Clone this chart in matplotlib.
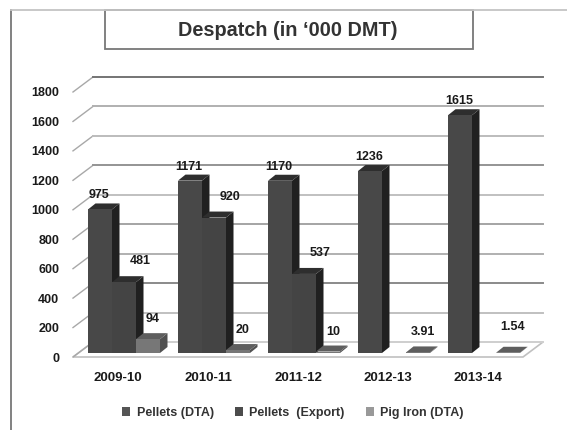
import numpy as np
import matplotlib
matplotlib.use("Agg")
import matplotlib.pyplot as plt
from matplotlib.patches import Polygon, Patch, Rectangle
from matplotlib.lines import Line2D

plt.rcParams['font.family'] = ['Liberation Sans', 'DejaVu Sans']

years = ['2009-10', '2010-11', '2011-12', '2012-13', '2013-14']
pellets_dta = [975, 1171, 1170, 1236, 1615]
pellets_export = [481, 920, 537, np.nan, np.nan]
pig_iron = [94, 20, 10, 3.91, 1.54]
value_labels = [['975', '1171', '1170', '1236', '1615'],
                ['481', '920', '537', '', ''],
                ['94', '20', '10', '3.91', '1.54']]
series_names = ['Pellets (DTA)', 'Pellets  (Export)', 'Pig Iron (DTA)']
y_ticks = [0, 200, 400, 600, 800, 1000, 1200, 1400, 1600, 1800]

W, H = 567, 430
fig = plt.figure(figsize=(W / 100, H / 100), dpi=100)
ax = fig.add_axes([73 / W, 1 - 357 / H, 450 / W, 265 / H])
ax.set_xlim(-0.5, 4.5)
ax.set_ylim(0, 1800)
for s in ax.spines.values():
    s.set_visible(False)

# pixel sizes in data units, the 3d look is faked with these
px_x = 1 / 90
px_y = 1800 / 265


def figbox(x0, y0, x1, y1, **kw):
    fig.add_artist(Rectangle((x0 / W, 1 - y1 / H), (x1 - x0) / W, (y1 - y0) / H,
                             transform=fig.transFigure, **kw))


# outer frame
fig.add_artist(Line2D([11 / W, 11 / W], [0, 1 - 10 / H], color='#777777', lw=1.3))
fig.add_artist(Line2D([11 / W, 1], [1 - 10 / H, 1 - 10 / H], color='#c4c4c4', lw=1.3))

# title box
figbox(105, 10, 473, 49, facecolor='white', edgecolor='#777777', lw=1.3)
fig.text(288 / W, 1 - 30 / H, 'Despatch (in ‘000 DMT)', ha='center', va='center',
         fontsize=14.3, fontweight='bold', color='#333333')

# floor
back_x, back_y = 20 * px_x, 15 * px_y
ax.add_patch(Polygon([(-0.5, 0), (4.5, 0), (4.5 + back_x, back_y), (-0.5 + back_x, back_y)],
                     closed=True, facecolor='white', edgecolor='#c0c0c0', lw=1.2, clip_on=False, zorder=1))

# wall lines
grid_colors = ['#d0d0d0', '#c0c0c0', '#8a8a8a', '#b0b0b0', '#a4a4a4',
               '#c0c0c0', '#949494', '#bcbcbc', '#b0b0b0', '#747474']
for v, c in zip(y_ticks, grid_colors):
    ax.plot([-0.5, -0.5 + back_x], [v, v + back_y], color='#a8a8a8', lw=1, clip_on=False, zorder=1)
    ax.plot([-0.5 + back_x, 4.5 + back_x], [v + back_y, v + back_y], color=c, lw=1.4, clip_on=False, zorder=1)

# bars
series = [pellets_dta, pellets_export, pig_iron]
front_cols = ['#484848', '#444444', '#777777']
side_cols = ['#202020', '#202020', '#505050']
top_cols = ['#2e2e2e', '#2e2e2e', '#5e5e5e']
bar_left = [-30, -6, 18]
label_dx = [-1, 16, 5]
label_dy = [14, 21, 20]
bar_w = 24 * px_x
base = 4 * px_y
dx, dy = 7.5 * px_x, 6 * px_y

for i in range(len(years)):
    for k, vals in enumerate(series):
        v = vals[i]
        if np.isnan(v):
            continue
        x0 = i + bar_left[k] * px_x
        x1 = x0 + bar_w
        top = base + v
        ax.add_patch(Polygon([(x1, base), (x1 + dx, base + dy), (x1 + dx, top + dy), (x1, top)],
                             facecolor=side_cols[k], edgecolor='none', clip_on=False, zorder=3))
        ax.add_patch(Polygon([(x0, top), (x1, top), (x1 + dx, top + dy), (x0 + dx, top + dy)],
                             facecolor=top_cols[k], edgecolor='none', clip_on=False, zorder=3))
        ax.add_patch(Rectangle((x0, base), bar_w, v, facecolor=front_cols[k], edgecolor='none',
                               clip_on=False, zorder=3))
        # 1.54 sits a bit higher than the other small labels
        extra = 6 if value_labels[k][i] == '1.54' else 0
        ax.annotate(value_labels[k][i], ((x0 + x1) / 2, top),
                    xytext=(label_dx[k] * 0.72, (label_dy[k] + extra) * 0.72),
                    textcoords='offset points', ha='center', va='center', fontsize=9,
                    fontweight='bold', color='#1a1a1a', zorder=5, annotation_clip=False)

ax.set_xticks(range(len(years)), years, fontsize=9.5, fontweight='bold', color='#1a1a1a')
ax.set_yticks(y_ticks, [str(v) for v in y_ticks], fontsize=9, fontweight='bold', color='#1a1a1a')
ax.tick_params(axis='x', length=0, pad=11)
ax.tick_params(axis='y', length=0, pad=10)

handles = [Patch(facecolor=c) for c in ['#555555', '#4c4c4c', '#999999']]
fig.legend(handles, series_names, ncol=3, frameon=False, loc='center',
           bbox_to_anchor=(293 / W, 1 - 413 / H), handlelength=0.65, handleheight=0.65,
           columnspacing=1.7, handletextpad=0.5, labelcolor='#333333',
           prop={'size': 9, 'weight': 'bold'})

fig.savefig('out.png', dpi=100)
